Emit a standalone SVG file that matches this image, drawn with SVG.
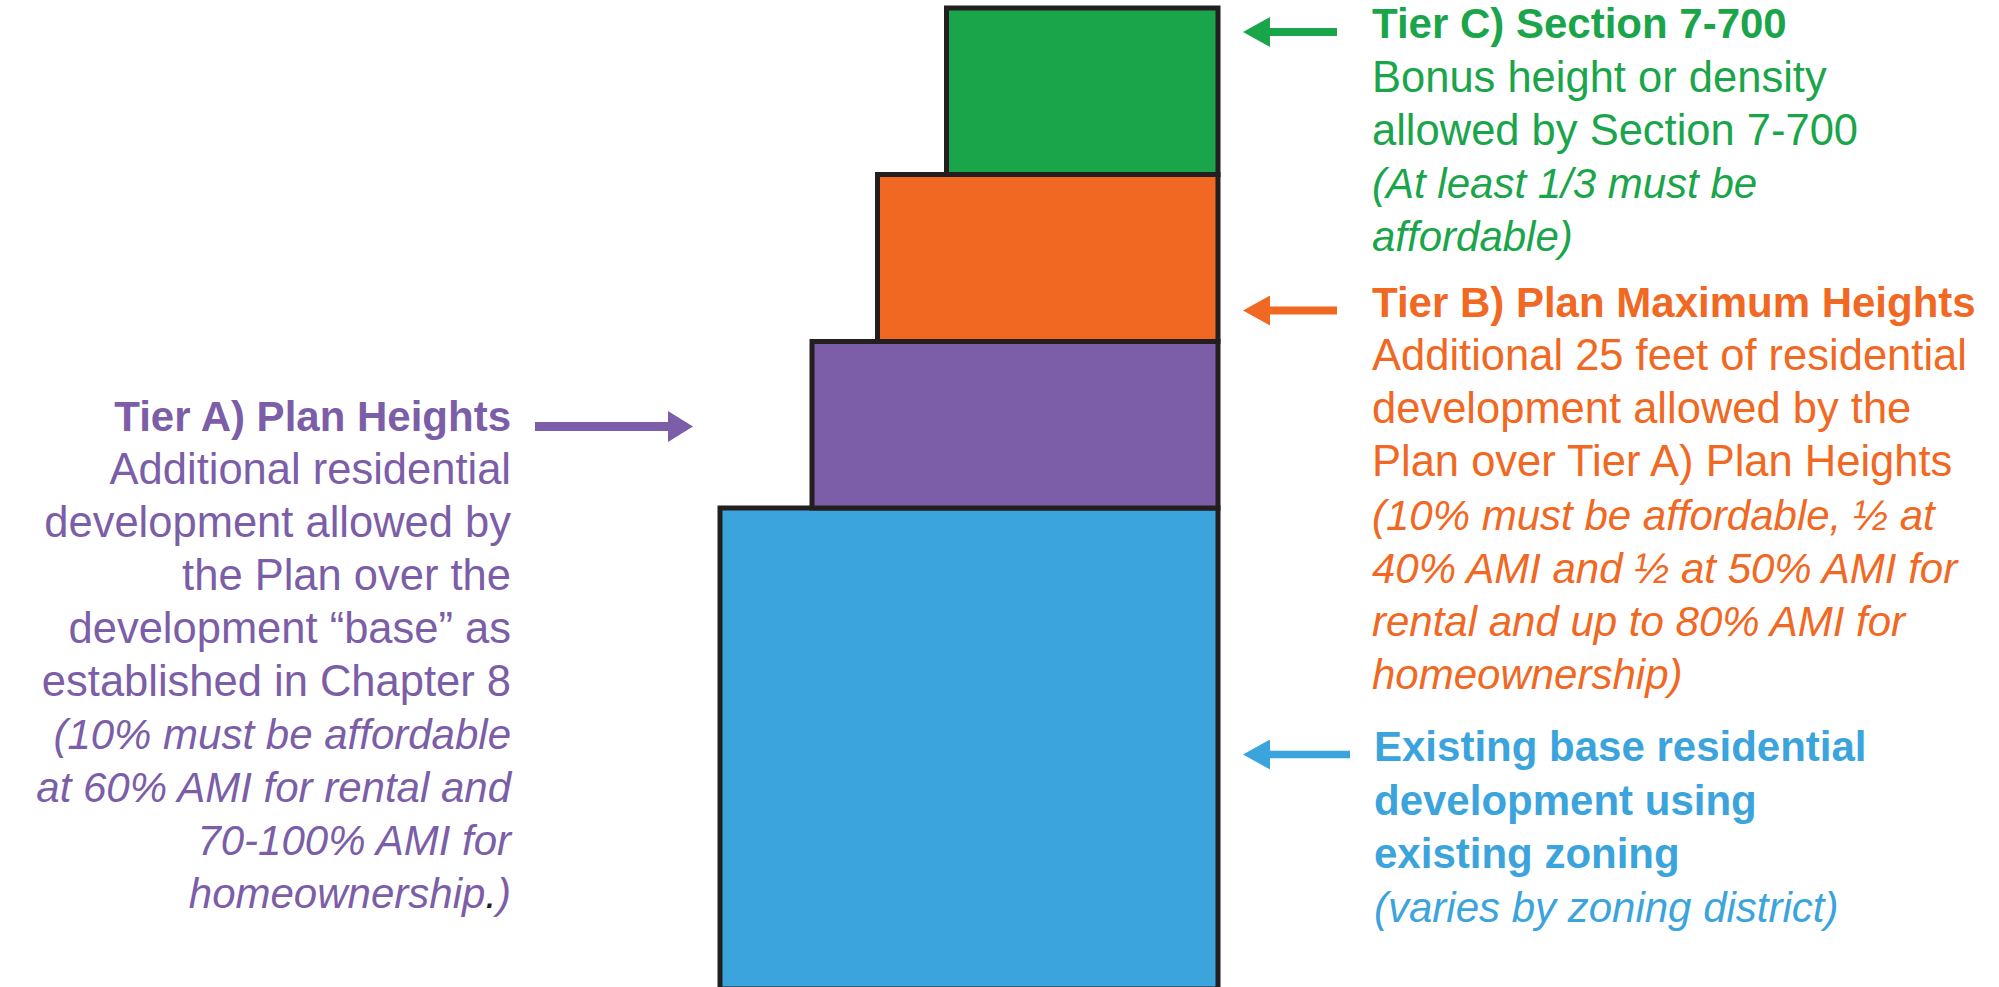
<svg xmlns="http://www.w3.org/2000/svg" width="1999" height="987" viewBox="0 0 1999 987">
<style>
text{font-family:"Liberation Sans",Arial,sans-serif;font-size:43.5px}
.b{font-weight:bold;font-size:42px}
.i{font-style:italic;font-size:42px}
.g{fill:#1ba54b}.o{fill:#f16823}.p{fill:#7b5ea7}.c{fill:#3ba4dc}
.l{text-anchor:end}
.blk{stroke:#231f20;stroke-width:5}
</style>
<defs>
<marker id="hg" viewBox="0 -15 27 30" refX="0" refY="0" markerWidth="27" markerHeight="30" markerUnits="userSpaceOnUse" orient="auto"><path d="M0,-15 L27,0 L0,15 Z" fill="#1ba54b"/></marker>
<marker id="ho" viewBox="0 -15 27 30" refX="0" refY="0" markerWidth="27" markerHeight="30" markerUnits="userSpaceOnUse" orient="auto"><path d="M0,-15 L27,0 L0,15 Z" fill="#f16823"/></marker>
<marker id="hc" viewBox="0 -15 27 30" refX="0" refY="0" markerWidth="27" markerHeight="30" markerUnits="userSpaceOnUse" orient="auto"><path d="M0,-15 L27,0 L0,15 Z" fill="#3ba4dc"/></marker>
<marker id="hp" viewBox="0 -15.5 25 31" refX="0" refY="0" markerWidth="25" markerHeight="31" markerUnits="userSpaceOnUse" orient="auto"><path d="M0,-15.5 L25,0 L0,15.5 Z" fill="#7b5ea7"/></marker>
</defs>
<rect width="1999" height="987" fill="#fff"/>
<g id="tier-base"><rect class="blk" x="720" y="508" width="498" height="481" fill="#3ba4dc"/></g>
<g id="tier-a"><rect class="blk" x="812" y="341.5" width="406" height="166.5" fill="#7b5ea7"/></g>
<g id="tier-b"><rect class="blk" x="877.5" y="174.5" width="340.5" height="167" fill="#f16823"/></g>
<g id="tier-c"><rect class="blk" x="946.5" y="8" width="271.5" height="166.5" fill="#1ba54b"/></g>
<g id="connectors" fill="none">
<line x1="1337" y1="32" x2="1270" y2="32" stroke="#1ba54b" stroke-width="8" marker-end="url(#hg)"/>
<line x1="1337" y1="310.5" x2="1270" y2="310.5" stroke="#f16823" stroke-width="8" marker-end="url(#ho)"/>
<line x1="1350" y1="754.5" x2="1270" y2="754.5" stroke="#3ba4dc" stroke-width="7.5" marker-end="url(#hc)"/>
<line x1="535" y1="426.5" x2="668" y2="426.5" stroke="#7b5ea7" stroke-width="9" marker-end="url(#hp)"/>
</g>
<g id="label-c">
<text class="b g" x="1372" y="38">Tier C) Section 7-700</text>
<text class="g" x="1372" y="91.5">Bonus height or density</text>
<text class="g" x="1372" y="145">allowed by Section 7-700</text>
<text class="i g" x="1372" y="198">(At least 1/3 must be</text>
<text class="i g" x="1372" y="251">affordable)</text>
</g>
<g id="label-b">
<text class="b o" x="1372" y="317">Tier B) Plan Maximum Heights</text>
<text class="o" x="1372" y="370">Additional 25 feet of residential</text>
<text class="o" x="1372" y="423">development allowed by the</text>
<text class="o" x="1372" y="476">Plan over Tier A) Plan Heights</text>
<text class="i o" x="1372" y="530">(10% must be affordable, ½ at</text>
<text class="i o" x="1372" y="583">40% AMI and ½ at 50% AMI for</text>
<text class="i o" x="1372" y="636">rental and up to 80% AMI for</text>
<text class="i o" x="1372" y="689">homeownership)</text>
</g>
<g id="label-base">
<text class="b c" x="1374" y="761">Existing base residential</text>
<text class="b c" x="1374" y="815">development using</text>
<text class="b c" x="1374" y="868">existing zoning</text>
<text class="i c" x="1374" y="922">(varies by zoning district)</text>
</g>
<g id="label-a">
<text class="b p l" x="511" y="431">Tier A) Plan Heights</text>
<text class="p l" x="511" y="484">Additional residential</text>
<text class="p l" x="511" y="537">development allowed by</text>
<text class="p l" x="511" y="590">the Plan over the</text>
<text class="p l" x="511" y="643">development “base” as</text>
<text class="p l" x="511" y="696">established in Chapter 8</text>
<text class="i p l" x="511" y="749">(10% must be affordable</text>
<text class="i p l" x="511" y="802">at 60% AMI for rental and</text>
<text class="i p l" x="511" y="855">70-100% AMI for</text>
<text class="i p l" x="511" y="908">homeownership<tspan fill="#231f20">.</tspan>)</text>
</g>
</svg>
